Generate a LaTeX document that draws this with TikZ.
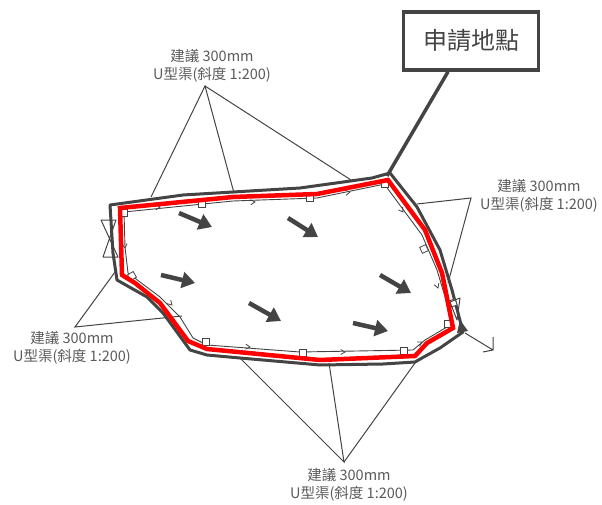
\documentclass[tikz,border=0pt]{standalone}
\usepackage{fontspec}
\setmainfont{Noto Sans CJK TC}
\usetikzlibrary{arrows.meta}
\definecolor{ink}{HTML}{444444}
\definecolor{labelgray}{HTML}{5A5A5A}
\tikzset{
  leader/.style={draw=ink,line width=1pt},
  note/.style={text=labelgray,font=\fontsize{14.5}{18.5}\selectfont,align=center,inner sep=0pt},
  bold arrow/.style={draw=ink,line width=4.5pt,-{Triangle[length=13pt,width=16pt]}},
  tinybox/.style={draw=ink,line width=0.8pt,fill=white,minimum size=6.5pt,inner sep=0pt},
}
\begin{document}
\begin{tikzpicture}[x=1pt,y=-1pt]
\useasboundingbox (0,0) rectangle (602,505);
% leaders
\coordinate (topapex) at (205,86);
\coordinate (rightapex) at (471,198);
\coordinate (leftapex) at (75,327);
\coordinate (botapex) at (344,462);
\draw[leader] (151,197) -- (topapex) -- (234,193);
\draw[leader] (topapex) -- (351,180);
\draw[leader] (417,204) -- (rightapex) -- (448,283);
\draw[leader] (115,272) -- (leftapex) -- (182,316);
\draw[leader] (240,358) -- (botapex) -- (329,363);
\draw[leader] (botapex) -- (415,363);
% outer boundary
\draw[draw=ink,line width=3pt,line join=round]
 (110,205) -- (183,195) -- (300,188) -- (372,178) -- (390,173) -- (417,207) -- (440,250) -- (452,290) -- (463,332)
 -- (440,348) -- (422,358) -- (415,362) -- (383,364) -- (320,365) -- (240,358) -- (207,355) -- (190,350) -- (163,313) -- (147,297) -- (117,280) -- (113,253) -- cycle;
% inner thin line
\draw[draw=ink,line width=0.9pt,line join=round]
 (124,212) -- (125,247) -- (128,273) -- (160,297) -- (180,317) -- (193,338) -- (207,345) -- (300,352) -- (413,350) -- (425,340) -- (447,327)
 (452,320) -- (437,270) -- (422,235) -- (385,185)
 (124,212) -- (233,201) -- (317,198) -- (385,184);
% squares on inner line
\foreach \px/\py/\pa in {124/213/0,132/276/30,202/204/0,310/198/0,385/184/0,424/249/25,453/303/20,448/324/0,404/351/0,303/353/0,206/342/0}
  \node[tinybox,rotate=\pa] at (\px,\py) {};
% chevrons
\foreach \px/\py/\pa in {160/207/-5,255/202/-3,350/192/-10,403/212/55,438/288/70,422/342/-30,345/352/0,250/347/5,172/305/45,125/248/85}
  \draw[draw=ink,line width=0.8pt] (\px,\py) ++(\pa+150:5) -- (\px,\py) -- ++(\pa-150:5);
% bowties and outlet arrow
\draw[draw=ink,line width=1pt,line join=round] (101,220) -- (116,220) -- (103,257) -- (118,257) -- cycle;
\draw[draw=ink,line width=1pt,line join=round] (450,302) -- (460,298) -- (457,320) -- cycle;
\fill[ink] (460,320) -- (468,331) -- (457,333) -- cycle;
\coordinate (outstart) at (465,333);
\coordinate (outend) at (493,350);
\draw[draw=ink,line width=1pt] (outstart) -- (outend) (493,337) -- (493,350) -- (483,352);
% red line
\draw[draw=red,line width=4.5pt,line join=miter]
 (120,208) -- (122,275) -- (135,283) -- (160,303) -- (188,341) -- (207,349) -- (320,360) -- (415,356) -- (427,343) -- (453,328) -- (442,273) -- (425,230) -- (388,180) -- (317,194) -- (233,197) -- cycle;
% bold flow arrows
\foreach \ax/\ay/\bx/\by in {179/213/212/227,161/275/195/283,249/303/281/321,288/218/318/237,380/275/411/293,353/323/388/331}
  \draw[bold arrow] (\ax,\ay) -- (\bx,\by);
% labels
\node[note] (ntop) at (212,66) {建議 300mm\\U型渠(斜度 1:200)};
\node[note] (nright) at (539,196) {建議 300mm\\U型渠(斜度 1:200)};
\node[note] (nleft) at (72,348) {建議 300mm\\U型渠(斜度 1:200)};
\node[note] (nbot) at (349,485) {建議 300mm\\U型渠(斜度 1:200)};
% site box
\node[draw=ink,line width=3.5pt,minimum width=135pt,minimum height=58pt,inner sep=0pt,text=ink,font=\fontsize{24}{28}\selectfont] (site) at (471,41) {申請地點};
\coordinate (sitecorner) at (387,176);
\draw[draw=ink,line width=3.5pt] (site.south -| 448,0) -- (sitecorner);
\end{tikzpicture}
\end{document}
